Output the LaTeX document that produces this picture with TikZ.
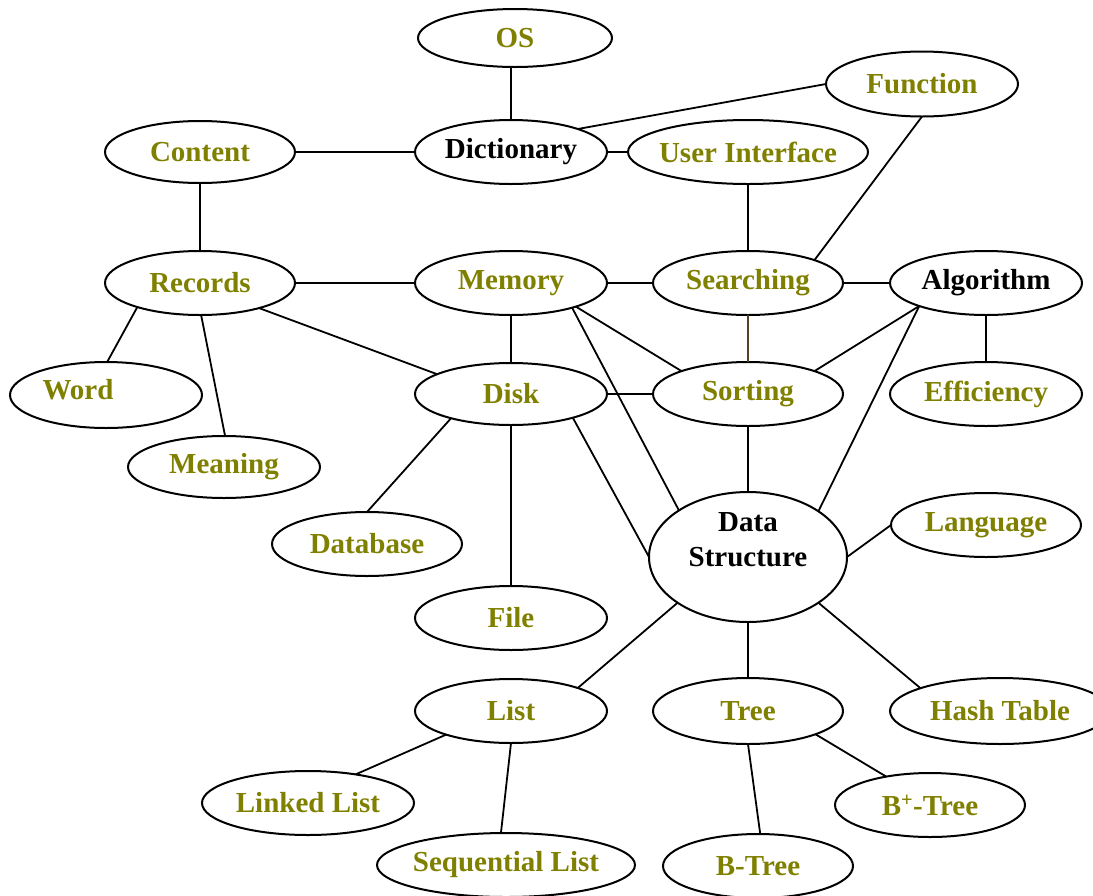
\documentclass[tikz,border=0pt]{standalone}
\usepackage{fontspec}
\setmainfont{Liberation Serif}
\usetikzlibrary{shapes.geometric}
\definecolor{olivetext}{RGB}{128,128,0}
\definecolor{linkbrown}{RGB}{85,65,35}
\begin{document}
\begin{tikzpicture}[x=1pt,y=-1pt,
  ell/.style={ellipse, draw=black, line width=2pt, inner sep=-12pt, outer sep=0pt,
    font=\fontsize{29}{35}\selectfont\bfseries, text=olivetext,
    minimum width=192pt, minimum height=64pt},
  lbl/.style={inner sep=0pt, font=\fontsize{29}{35}\selectfont\bfseries, text=olivetext},
  link/.style={line width=1.8pt, draw=black}]
\path[use as bounding box] (0,0) rectangle (1093,895);
\clip (0,0) rectangle (1093,895);

% nodes
\node[ell, minimum width=194pt, minimum height=58pt] (os) at (515,38) {OS};
\node[ell, minimum height=65pt] (func) at (922,84) {Function};
\node[ell, minimum width=190pt, minimum height=62pt] (content) at (200,152) {Content};
\node[ell, text=black] (dict) at (511,152) {Dictionary};
\node[ell, minimum width=240pt] (ui) at (748,152) {User Interface};
\node[ell, minimum width=190pt] (records) at (200,283) {Records};
\node[ell] (memory) at (511,283) {Memory};
\node[ell, minimum width=190pt] (search) at (748,283) {Searching};
\node[ell, text=black] (algo) at (986,283) {Algorithm};
\node[ell, minimum height=66pt] (word) at (106,395) {};
\node[lbl] (wordtext) at (78,390) {Word};
\node[ell, minimum height=62pt] (disk) at (511,394) {Disk};
\node[ell, minimum width=190pt] (sort) at (748,394) {Sorting};
\node[ell] (eff) at (986,394) {Efficiency};
\node[ell, minimum height=62pt] (meaning) at (224,467) {Meaning};
\node[ell, minimum width=198pt, minimum height=130pt] (ds) at (748,557) {};
\node[lbl, text=black, align=center] (dstext) at (748,540) {Data\\Structure};
\node[ell, minimum width=190pt] (lang) at (986,525) {Language};
\node[ell, minimum width=190pt] (database) at (367,544) {Database};
\node[ell] (file) at (511,618) {File};
\node[ell] (list) at (511,711) {List};
\node[ell, minimum width=190pt, minimum height=66pt] (tree) at (748,711) {Tree};
\node[ell, minimum width=220pt, minimum height=66pt] (hash) at (1000,711) {Hash Table};
\node[ell, minimum width=212pt] (linked) at (308,803) {Linked List};
\node[ell, minimum width=190pt] (bplus) at (930,805) {B\textsuperscript{+}-Tree};
\node[ell, minimum width=258pt] (seq) at (506,865) {Sequential List};
\node[ell, minimum width=190pt] (btree) at (758,866) {B-Tree};

% connectors
\draw[link] (dict.north) -- (dict.north |- os.south);
\draw[link] (dict.19) -- (func.180);
\draw[link] (content.east) -- (dict.west);
\draw[link] (dict.east) -- (ui.west);
\draw[link] (content.south) -- (records.north);
\draw[link] (ui.south) -- (search.north);
\draw[link] (func.-90) -- (search.19);
\draw[link] (records.east) -- (memory.west);
\draw[link] (memory.east) -- (search.west);
\draw[link] (search.east) -- (algo.west);
\draw[link] (records.201) -- (word.88);
\draw[link] (records.-88) -- (meaning.88);
\draw[link] (records.-23) -- (disk.165);
\draw[link] (memory.south) -- (disk.north);
\draw[link] (memory.-20) -- (sort.161);
\draw[link] (memory.-22) -- (ds.146);
\draw[link, draw=linkbrown] (search.south) -- (sort.north);
\draw[link] (algo.-161) -- (sort.19);
\draw[link] (algo.-161) -- (ds.33);
\draw[link] (algo.south) -- (eff.north);
\draw[link] (disk.east) -- (sort.west);
\draw[link] (disk.202) -- (database.90);
\draw[link] (disk.south) -- (file.north);
\draw[link] (disk.-21) -- (ds.180);
\draw[link] (sort.south) -- (ds.north);
\draw[link] (ds.east) -- (lang.west);
\draw[link] (ds.-147) -- (list.19);
\draw[link] (ds.south) -- (tree.north);
\draw[link] (ds.-33) -- (hash.164);
\draw[link] (list.200) -- (linked.31);
\draw[link] (list.-90) -- (seq.99);
\draw[link] (tree.south) -- (btree.86);
\draw[link] (tree.-19) -- (bplus.147);
\end{tikzpicture}
\end{document}
